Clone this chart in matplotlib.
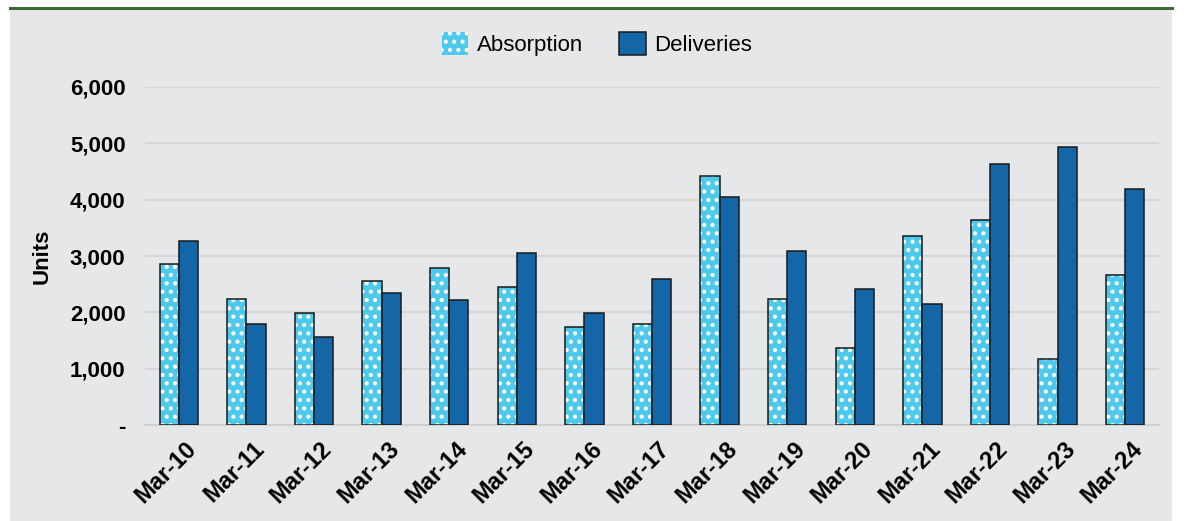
import matplotlib
matplotlib.use("Agg")
import matplotlib.pyplot as plt
import matplotlib.transforms as mtransforms
from matplotlib.patches import Rectangle, Patch
from matplotlib.ticker import FuncFormatter
import numpy as np

categories = ["Mar-10", "Mar-11", "Mar-12", "Mar-13", "Mar-14", "Mar-15", "Mar-16",
              "Mar-17", "Mar-18", "Mar-19", "Mar-20", "Mar-21", "Mar-22", "Mar-23", "Mar-24"]
absorption = [2850, 2230, 1990, 2560, 2790, 2455, 1745, 1800, 4420, 2240, 1360, 3350, 3640, 1170, 2665]
deliveries = [3265, 1790, 1560, 2350, 2225, 3060, 1995, 2595, 4050, 3090, 2415, 2140, 4625, 4940, 4190]
yticks = [0, 1000, 2000, 3000, 4000, 5000, 6000]

plt.rcParams['font.family'] = ['Liberation Sans', 'DejaVu Sans']
plt.rcParams['hatch.linewidth'] = 1.8

W, H = 1186, 521
fig = plt.figure(figsize=(W / 100, H / 100), dpi=100)
fig.patch.set_facecolor('white')

panel_bg = '#e6e7e9'
fig.add_artist(Rectangle((10 / W, 0), (1172 - 10) / W, (H - 9) / H,
                         transform=fig.transFigure, facecolor=panel_bg,
                         edgecolor='none', zorder=0))
fig.add_artist(plt.Line2D([10 / W, 1172 / W], [(H - 8) / H, (H - 8) / H],
                          transform=fig.transFigure, color='#3b6a36', lw=2.2, zorder=1))

ax = fig.add_axes([145 / W, 96 / H, (1159 - 145) / W, (425 - 87) / H])
ax.set_facecolor('none')

x = np.arange(len(categories))
bw = 0.285
abs_color = '#4fc9eb'
del_color = '#1466a6'

ax.bar(x - bw / 2, absorption, bw, color=abs_color, edgecolor='white', linewidth=0,
       hatch='..', zorder=3)
ax.bar(x - bw / 2, absorption, bw, fill=False, edgecolor='#1a1a1a', linewidth=1.1, zorder=4)
ax.bar(x + bw / 2, deliveries, bw, color=del_color, edgecolor='#1a1a1a', linewidth=1.1, zorder=4)

ax.set_xlim(-0.5, len(categories) - 0.5)
ax.set_ylim(0, 6000)
ax.set_yticks(yticks)
ax.yaxis.set_major_formatter(FuncFormatter(lambda v, p: '-' if v == 0 else f'{int(v):,}'))
ax.grid(axis='y', color='#d6d5d3', lw=1.3, zorder=1)
ax.set_axisbelow(True)
for s in ['top', 'right', 'left']:
    ax.spines[s].set_visible(False)
ax.spines['bottom'].set_color('#d0cfcd')
ax.spines['bottom'].set_linewidth(1.3)
ax.tick_params(axis='y', length=0, pad=14, labelsize=16)
ax.tick_params(axis='x', length=0, pad=9, labelsize=17)
for lbl in ax.get_yticklabels():
    lbl.set_fontweight('bold')

ax.set_xticks(x)
ax.set_xticklabels(categories, rotation=45, ha='right', va='top',
                   rotation_mode='anchor', fontweight='bold')
offset = mtransforms.ScaledTranslation(6 / 100, 0, fig.dpi_scale_trans)
for lbl in ax.get_xticklabels():
    lbl.set_transform(lbl.get_transform() + offset)

ax.set_ylabel('Units', fontsize=16, fontweight='bold')
ax.yaxis.set_label_coords(-92 / (1159 - 145), 0.5)

handles = [Patch(facecolor=abs_color, edgecolor='white', hatch='..', linewidth=0),
           Patch(facecolor=del_color, edgecolor='#1a1a1a', linewidth=1.1)]
leg = fig.legend(handles, ['Absorption', 'Deliveries'], loc='center',
                 bbox_to_anchor=(597 / W, (H - 44) / H), ncol=2, frameon=False,
                 fontsize=16, handlelength=1.2, handleheight=1.2, handletextpad=0.4,
                 columnspacing=1.6)

fig.savefig('out.png', dpi=100, facecolor='white')
